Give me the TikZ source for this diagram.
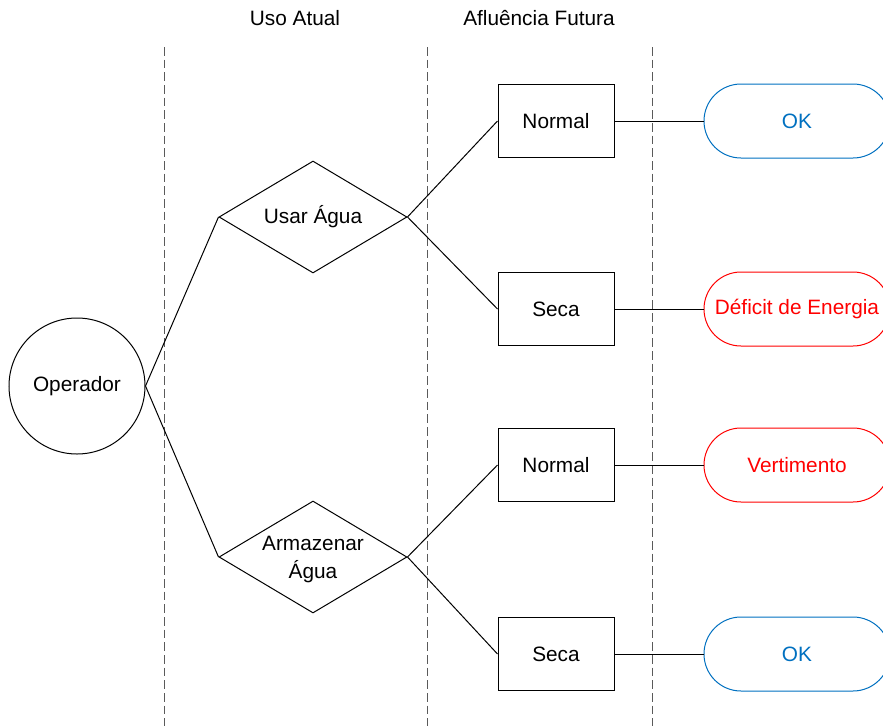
\documentclass[tikz,border=0pt]{standalone}
\usepackage{fontspec}
\setmainfont{Liberation Sans}
\usetikzlibrary{shapes.geometric}
\definecolor{okblue}{RGB}{0,112,192}
\definecolor{alertred}{RGB}{255,0,0}
\definecolor{guide}{RGB}{90,90,90}

\begin{document}
\begin{tikzpicture}[x=0.75pt,y=-0.75pt,
  font=\fontsize{15.6}{21}\selectfont,
  every node/.style={inner sep=0pt},
  base/.style={draw=black, line width=0.75pt},
  agent/.style={base, circle, minimum size=102pt},
  choice/.style={base, diamond, minimum width=141pt, minimum height=84pt},
  inflow/.style={base, rectangle, minimum width=87pt, minimum height=54.75pt},
  outcome/.style={line width=0.75pt, rectangle, rounded corners=27.75pt,
    minimum width=139.5pt, minimum height=55.5pt},
  good/.style={outcome, draw=okblue, text=okblue},
  bad/.style={outcome, draw=alertred, text=alertred},
  link/.style={line width=0.75pt},
  divider/.style={draw=guide, line width=0.75pt, dash pattern=on 6.5pt off 3pt}]

\useasboundingbox (0,0) rectangle (883,726);
\clip (0,0) rectangle (883,726);

% stage headers
\node (h1) at (295,18) {Uso Atual};
\node (h2) at (539,18) {Afluência Futura};

% stage dividers
\coordinate (d1t) at (164,47); \coordinate (d1b) at (164,726);
\coordinate (d2t) at (427,47); \coordinate (d2b) at (427,726);
\coordinate (d3t) at (652,47); \coordinate (d3b) at (652,726);
\draw[divider] (d1t) -- (d1b);
\draw[divider] (d2t) -- (d2b);
\draw[divider] (d3t) -- (d3b);

% decision maker
\node[agent] (op) at (77,386) {Operador};

% current use decisions
\node[choice, label=center:{Usar Água}] (use) at (313,217) {};
\node[choice, label={[align=center, yshift=-2pt]center:Armazenar\\Água}] (store) at (313,557) {};

% future inflow scenarios
\node[inflow] (n1) at (556,121) {Normal};
\node[inflow] (s1) at (556,309) {Seca};
\node[inflow] (n2) at (556,465) {Normal};
\node[inflow] (s2) at (556,654) {Seca};

% outcomes
\node[good] (o1) at (797,121) {OK};
\node[bad]  (o2) at (797,309) {Déficit de Energia};
\node[bad]  (o3) at (797,465) {Vertimento};
\node[good] (o4) at (797,654) {OK};

% tree branches
\draw[link] (op.east) -- (use.west);
\draw[link] (op.east) -- (store.west);
\draw[link] (use.east) -- (n1.west);
\draw[link] (use.east) -- (s1.west);
\draw[link] (store.east) -- (n2.west);
\draw[link] (store.east) -- (s2.west);
\draw[link] (n1.east) -- (o1.west);
\draw[link] (s1.east) -- (o2.west);
\draw[link] (n2.east) -- (o3.west);
\draw[link] (s2.east) -- (o4.west);
\end{tikzpicture}
\end{document}
